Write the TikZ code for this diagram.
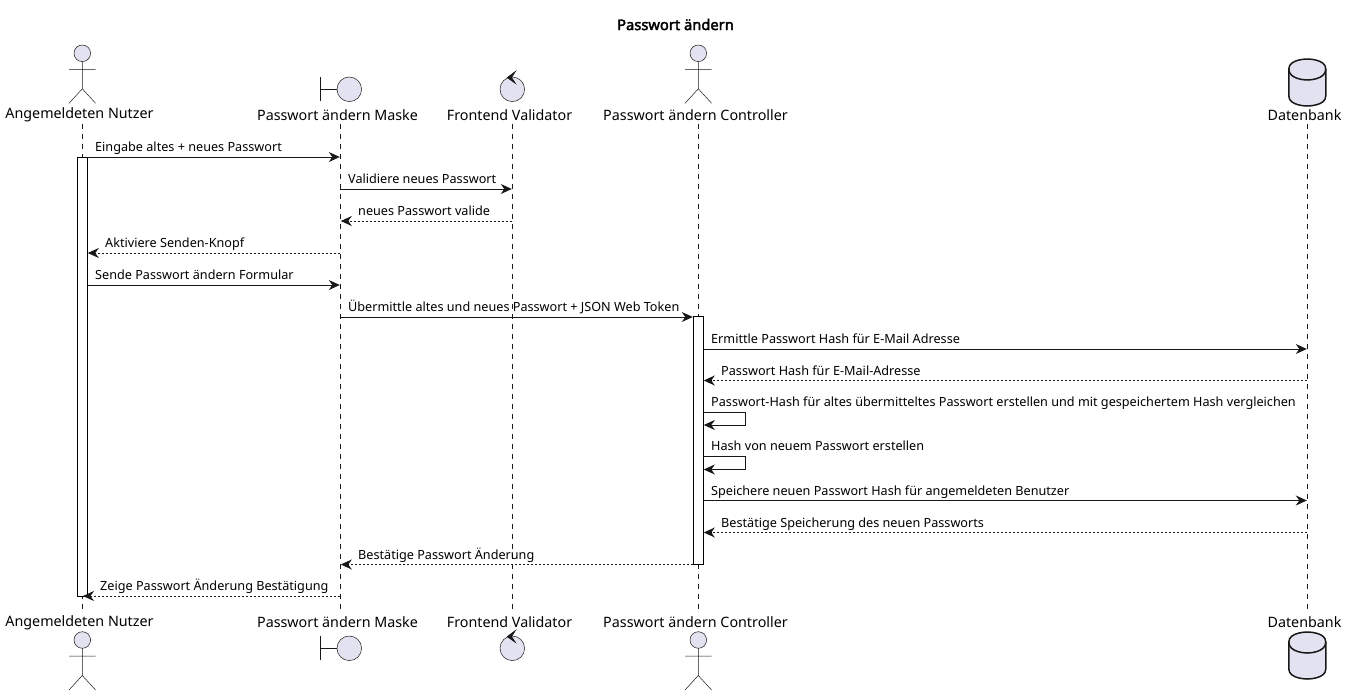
\documentclass[tikz,border=0pt]{standalone}
\usepackage{fontspec}
\setmainfont{Noto Sans}[AutoFakeBold=2.6]
\usepackage{xcolor}
\usepackage{tikz}
\usetikzlibrary{arrows.meta}
\definecolor{partfill}{HTML}{E2E2F0}
\definecolor{partline}{HTML}{181818}
\tikzset{
  headtxt/.style={font=\fontsize{14.3}{16}\selectfont,text=black,inner sep=0pt},
  msgtxt/.style={font=\fontsize{12.65}{15}\selectfont,text=black,anchor=base west,inner sep=0pt},
  figline/.style={draw=partline,line width=0.5pt},
  figfill/.style={figline,fill=partfill},
  lifeline/.style={draw=partline,line width=0.5pt,dash pattern=on 5pt off 5pt},
  msg/.style={draw=partline,line width=1pt,-{Stealth[length=11pt,width=10pt,inset=3.5pt]}},
  ret/.style={msg,dash pattern=on 2pt off 2pt},
  bar/.style={draw=black,fill=white,line width=1pt}
}
% Figuren, #1 = x, #2 = y der Mitte
\newcommand{\actorfig}[2]{
  \draw[figfill] (#1,#2) circle (8.3);
  \draw[figline] (#1,#2+8.3) -- (#1,#2+35.5) (#1-13.3,#2+16) -- (#1+13.3,#2+16)
    (#1-13.3,#2+50) -- (#1,#2+35.5) -- (#1+13.3,#2+50);
}
\newcommand{\boundaryfig}[2]{
  \draw[figline] (#1-20,#2-12) -- (#1-20,#2+12) (#1-20,#2) -- (#1-3.3,#2);
  \draw[figfill] (#1+9,#2) circle (12.3);
}
\newcommand{\controlfig}[2]{
  \draw[figfill] (#1,#2) circle (12.3);
  \filldraw[fill=partline,draw=partline,line width=0.7pt] (#1-5,#2-11.7) -- (#1+3,#2-17.7) -- (#1-0.8,#2-11.7) -- (#1+3,#2-6) -- cycle;
}
\newcommand{\dbfig}[2]{
  \draw[figfill,line width=1.5pt] (#1-18.5,#2+10) .. controls (#1-18.5,#2) and (#1,#2) .. (#1,#2)
    .. controls (#1,#2) and (#1+18.5,#2) .. (#1+18.5,#2+10) -- (#1+18.5,#2+37)
    .. controls (#1+18.5,#2+47) and (#1,#2+47) .. (#1,#2+47)
    .. controls (#1,#2+47) and (#1-18.5,#2+47) .. (#1-18.5,#2+37) -- cycle;
  \draw[figline,line width=1.5pt] (#1-18.5,#2+10) .. controls (#1-18.5,#2+21) and (#1,#2+21) .. (#1,#2+21)
    .. controls (#1,#2+21) and (#1+18.5,#2+21) .. (#1+18.5,#2+10);
}
\begin{document}
\begin{tikzpicture}[x=1pt,y=-1pt]
\useasboundingbox (0,0) rectangle (1347,696);
\node[font=\bfseries\fontsize{14.7}{16}\selectfont,inner sep=0pt] (title) at (675.5,24.5) {Passwort ändern};
% Teilnehmer und Lebenslinien
\foreach \name/\x/\txt in {nutzer/82.3/Angemeldeten Nutzer,maske/340.3/Passwort ändern Maske,
  validator/512.3/Frontend Validator,controller/698.3/Passwort ändern Controller,db/1307.3/Datenbank} {
  \node[headtxt] (\name top) at (\x-2.8,115) {\txt};
  \node[headtxt] (\name bot) at (\x-2.8,622.5) {\txt};
  \coordinate (\name a) at (\x,124);
  \coordinate (\name b) at (\x,609);
  \draw[lifeline] (\name a) -- (\name b);
}
\actorfig{82.3}{53.3}
\actorfig{82.3}{640}
\boundaryfig{340.3}{89.3}
\boundaryfig{340.3}{648.3}
\controlfig{512.3}{89.3}
\controlfig{512.3}{648.3}
\actorfig{698.3}{53.3}
\actorfig{698.3}{640}
\dbfig{1307.3}{59}
\dbfig{1307.3}{632}
% Aktivierung
\node[bar,minimum width=9.7pt,minimum height=439pt,inner sep=0pt] (actnutzer) at (82.3,376.5) {};
\node[bar,minimum width=9.7pt,minimum height=248pt,inner sep=0pt] (actctrl) at (698.3,440.5) {};
% Nachrichten
\foreach \i/\sty/\xa/\xb/\y/\xt/\txt in {
  1/msg/87/339.8/157/95/Eingabe altes + neues Passwort,
  2/msg/340.3/511.8/189/348/Validiere neues Passwort,
  3/ret/512.3/340.8/221/358/neues Passwort valide,
  4/ret/340.3/87.8/253/105/Aktiviere Senden-Knopf,
  5/msg/87/339.8/285/95/Sende Passwort ändern Formular,
  6/msg/340.3/692.8/317/348/Übermittle altes und neues Passwort + JSON Web Token,
  7/msg/703/1306.8/349/711/Ermittle Passwort Hash für E-Mail Adresse,
  8/ret/1307.3/703.8/380.5/721/Passwort Hash für E-Mail-Adresse,
  11/msg/703/1306.8/500.5/711/Speichere neuen Passwort Hash für angemeldeten Benutzer,
  12/ret/1307.3/703.8/532.5/721/Bestätige Speicherung des neuen Passworts,
  13/ret/693/340.8/564.5/358/Bestätige Passwort Änderung,
  14/ret/340.3/83/596/100/Zeige Passwort Änderung Bestätigung} {
  \coordinate (m\i s) at (\xa,\y);
  \coordinate (m\i e) at (\xb,\y);
  \draw[\sty] (m\i s) -- (m\i e);
  \node[msgtxt] (l\i) at (\xt,\y-5.5) {\txt};
}
% Selbstaufrufe
\foreach \i/\y/\txt in {9/412/Passwort-Hash für altes übermitteltes Passwort erstellen und mit gespeichertem Hash vergleichen,
  10/456.5/Hash von neuem Passwort erstellen} {
  \coordinate (m\i s) at (703,\y);
  \coordinate (m\i r) at (745.5,\y);
  \coordinate (m\i q) at (745.5,\y+13);
  \coordinate (m\i e) at (703.8,\y+13);
  \draw[msg] (m\i s) -- (m\i r) -- (m\i q) -- (m\i e);
  \node[msgtxt] (l\i) at (711,\y-6) {\txt};
}
\end{tikzpicture}
\end{document}
